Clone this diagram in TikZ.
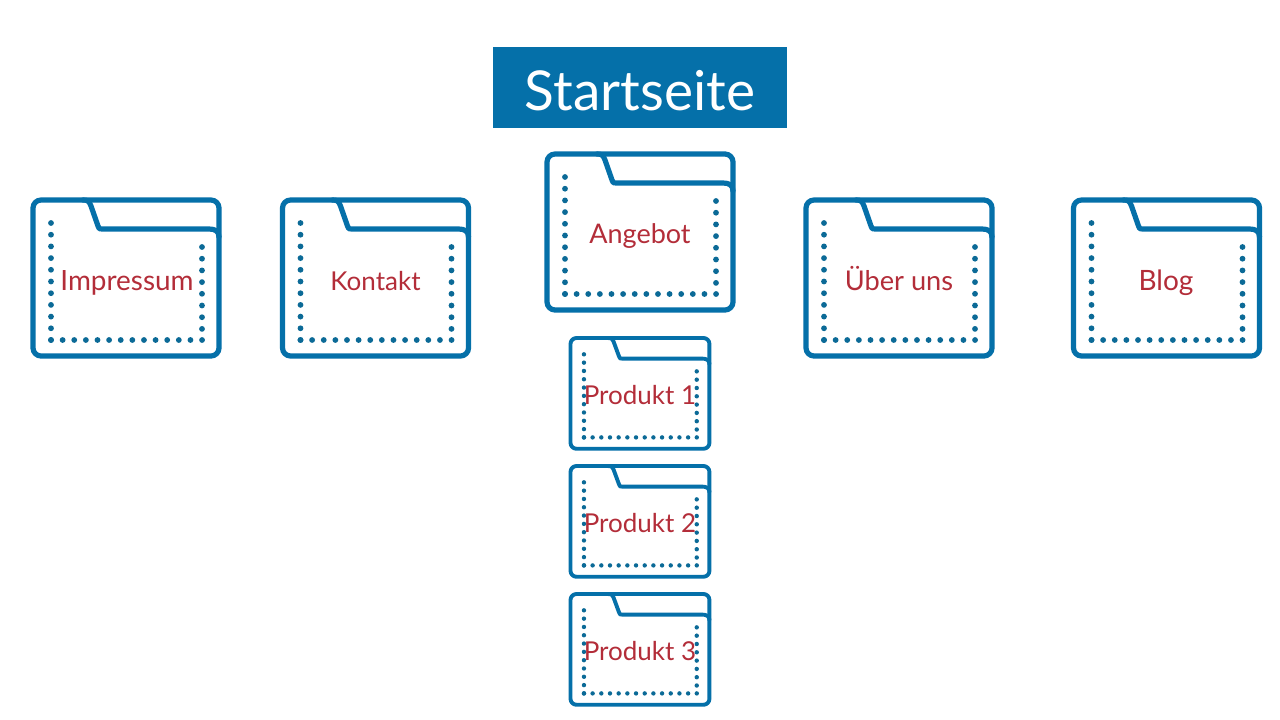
\documentclass[tikz,border=0pt]{standalone}
\usepackage{fontspec}
\setmainfont{Lato}
\definecolor{fblue}{HTML}{0570A9}
\definecolor{dotblue}{HTML}{0B6A97}
\definecolor{lblred}{HTML}{B32D39}
\tikzset{
  folderline/.style={draw=fblue,line join=round,line cap=round},
  folderdot/.style={fill=dotblue,draw=none},
  lbl/.style={text=lblred,inner sep=0pt,anchor=base,font=\fontsize{#1}{#1}\selectfont},
  banner/.style={fill=fblue,draw=none,inner sep=0pt,text=white,font=\fontsize{55}{55}\selectfont}
}
% #1 left, #2 top, #3 xscale, #4 yscale, #5 line width, #6 dot radius
\newcommand{\folderpic}[6]{%
  \begin{scope}[shift={(#1,#2)}]
    \pgfmathsetmacro{\sx}{#3}\pgfmathsetmacro{\sy}{#4}
    \pgfmathsetmacro{\rr}{8*\sx}
    \draw[folderline,line width=#5pt,rounded corners=\rr pt]
      (0,0) rectangle (186*\sx,156*\sy);
    \draw[folderline,line width=#5pt]
      (50*\sx,0) .. controls (55*\sx,0) and (56*\sx,1*\sy) .. (58*\sx,6*\sy)
      -- (65*\sx,26*\sy) .. controls (66*\sx,29*\sy) and (66*\sx,29*\sy) .. (69*\sx,29*\sy)
      -- (176*\sx,29*\sy) .. controls (182*\sx,29*\sy) and (186*\sx,31*\sy) .. (186*\sx,37*\sy);
    \foreach \k in {0,...,10}{\fill[folderdot] (18*\sx,23*\sy+\k*11.7*\sy) circle (#6pt);}
    \foreach \k in {0,...,13}{\fill[folderdot] (18*\sx+\k*11.62*\sx,140*\sy) circle (#6pt);}
    \foreach \k in {0,...,7}{\fill[folderdot] (169*\sx,47*\sy+\k*11.7*\sy) circle (#6pt);}
  \end{scope}}
\begin{document}
\begin{tikzpicture}[x=1pt,y=-1pt]
\useasboundingbox[fill=white] (0,0) rectangle (1280,720);
\node[banner,minimum width=294pt,minimum height=81pt] (start) at (640,87.5) {};
\node[text=white,inner sep=0pt,anchor=base,font=\fontsize{55}{55}\selectfont] (starttext) at (640,110) {Startseite};
\folderpic{33}{200}{1}{1}{5.2}{2.9}
\folderpic{282.5}{200}{1}{1}{5.2}{2.9}
\folderpic{547}{154}{1}{1}{5.2}{2.9}
\folderpic{806}{200}{1}{1}{5.2}{2.9}
\folderpic{1073.5}{200}{1}{1}{5.2}{2.9}
\folderpic{570.5}{338}{0.747}{0.71}{3.9}{2.2}
\folderpic{570.5}{466}{0.747}{0.71}{3.9}{2.2}
\folderpic{570.5}{594}{0.747}{0.71}{3.9}{2.2}
\node[lbl=27.9] (impressum) at (127,290) {Impressum};
\node[lbl=26] (kontakt) at (375.5,290) {Kontakt};
\node[lbl=27] (angebot) at (640,243) {Angebot};
\node[lbl=27.2] (ueber) at (899,290) {Über uns};
\node[lbl=28] (blog) at (1166,290) {Blog};
\node[lbl=26] (p1) at (640,404) {Produkt 1};
\node[lbl=26] (p2) at (640,532) {Produkt 2};
\node[lbl=26] (p3) at (640,660) {Produkt 3};
\end{tikzpicture}
\end{document}
